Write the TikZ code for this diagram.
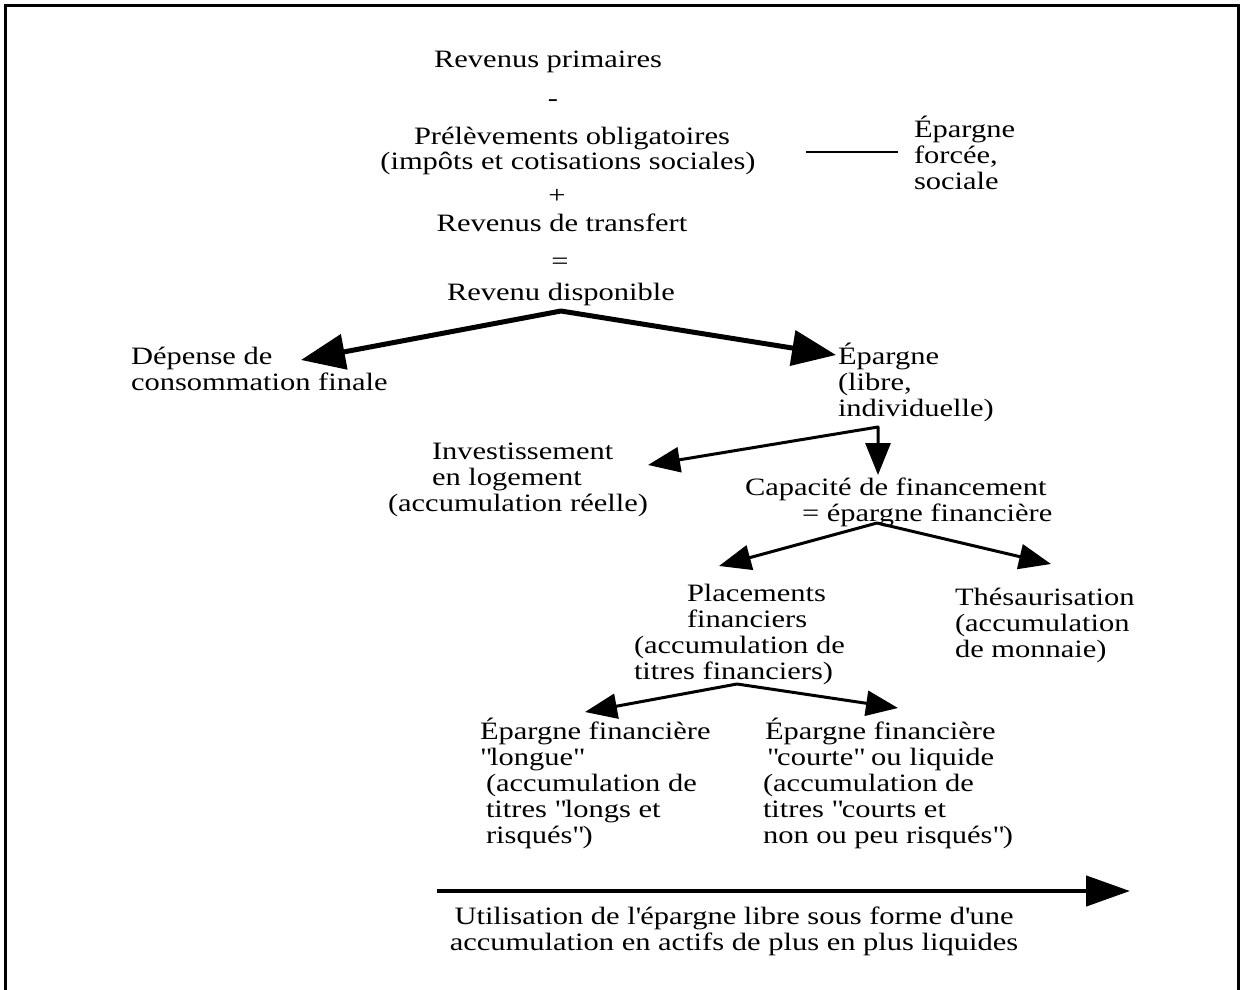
\documentclass[tikz,border=0pt]{standalone}
\usepackage{fontspec}
\setmainfont{Liberation Serif}[FakeStretch=1.22]
\usetikzlibrary{arrows.meta}
\newcommand\stk[1]{\vtop{\baselineskip=26pt\lineskiplimit=-20pt\halign{##\hfil\cr#1\crcr}}}
\newcommand\stkc[1]{\vtop{\baselineskip=26pt\lineskiplimit=-20pt\halign{\hfil##\hfil\cr#1\crcr}}}
\newcommand\qd{\textquotedbl}
\newcommand\qs{\textquotesingle}
\begin{document}
\begin{tikzpicture}[x=1pt,y=-1pt,
  every node/.style={inner sep=0pt,outer sep=0pt,font=\fontsize{25}{26}\selectfont},
  txt/.style={anchor=base west},
  ctr/.style={anchor=base},
  framestyle/.style={line width=3pt},
  bigarrows/.style={line width=5pt,line join=round,{Triangle[length=44pt,width=35pt]}-{Triangle[length=44pt,width=35pt]}},
  midarrows/.style={line width=3pt,line join=round,{Triangle[length=32pt,width=25pt]}-{Triangle[length=32pt,width=25pt]}},
  longarrow/.style={line width=4.5pt,-{Triangle[length=44pt,width=30pt]}},
  plainline/.style={line width=2.5pt}]
\useasboundingbox (0,0) rectangle (1242,990);
\fill[white] (0,0) rectangle (1242,990);
\draw[framestyle] (5,992) -- (5,6) -- (1238,6) -- (1238,992);
% top column
\node[ctr] (rp) at (548,67) {Revenus primaires};
\node[ctr] (minus) at (553,106) {-};
\node[ctr] (prel) at (572,144) {Prélèvements obligatoires};
\node[ctr] (imp) at (568,169) {(impôts et cotisations sociales)};
\node[ctr] (plus) at (557,203) {+};
\node[ctr] (rt) at (562,231) {Revenus de transfert};
\node[ctr] (eq) at (560,269) {=};
\node[ctr] (rd) at (561,300) {Revenu disponible};
\node[txt] (ef) at (914,137) {\stk{Épargne\cr forcée,\cr sociale}};
\coordinate (fl1) at (806,152);
\coordinate (fl2) at (898,152);
\draw[plainline] (fl1) -- (fl2);
% level 2
\node[txt] (dep) at (131,364) {\stk{Dépense de\cr consommation finale}};
\node[txt] (el) at (838,364) {\stk{Épargne\cr (libre,\cr individuelle)}};
\coordinate (a1) at (561,311);
\coordinate (t1l) at (301,360);
\coordinate (t1r) at (836,355);
\draw[bigarrows] (t1l) -- (a1) -- (t1r);
% level 3
\node[txt] (inv) at (388,459) {\stk{\hspace*{44pt}Investissement\cr \hspace*{44pt}en logement\cr (accumulation réelle)}};
\node[txt] (cap) at (745,495) {\stk{Capacité de financement\cr \hspace*{57pt}= épargne financière}};
\coordinate (a2) at (878,427);
\coordinate (t2l) at (648,465);
\coordinate (t2d) at (878,475);
\draw[midarrows] (t2l) -- (a2) -- (t2d);
% level 4
\node[txt] (pl) at (634,601) {\stk{\hspace*{53pt}Placements\cr \hspace*{53pt}financiers\cr (accumulation de\cr titres financiers)}};
\node[txt] (th) at (955,605) {\stk{Thésaurisation\cr (accumulation\cr de monnaie)}};
\coordinate (a3) at (877,523);
\coordinate (t3l) at (719,566);
\coordinate (t3r) at (1051,564);
\draw[midarrows] (t3l) -- (a3) -- (t3r);
% level 5
\node[txt] (efl) at (480,739) {\stk{Épargne financière\cr \qd longue\qd\cr \hspace*{6pt}(accumulation de\cr \hspace*{6pt}titres \qd longs et\cr \hspace*{6pt}risqués\qd)}};
\node[txt] (efc) at (763,739) {\stk{\hspace*{2pt}Épargne financière\cr \hspace*{4pt}\qd courte\qd{} ou liquide\cr (accumulation de\cr titres \qd courts et\cr non ou peu risqués\qd)}};
\coordinate (a4) at (737,684);
\coordinate (t4l) at (585,712);
\coordinate (t4r) at (898,708);
\draw[midarrows] (t4l) -- (a4) -- (t4r);
% bottom
\coordinate (b1) at (437,891);
\coordinate (b2) at (1130,891);
\draw[longarrow] (b1) -- (b2);
\node[ctr] (util) at (734,924) {\stkc{Utilisation de l\qs épargne libre sous forme d\qs une\cr accumulation en actifs de plus en plus liquides}};
\end{tikzpicture}
\end{document}
